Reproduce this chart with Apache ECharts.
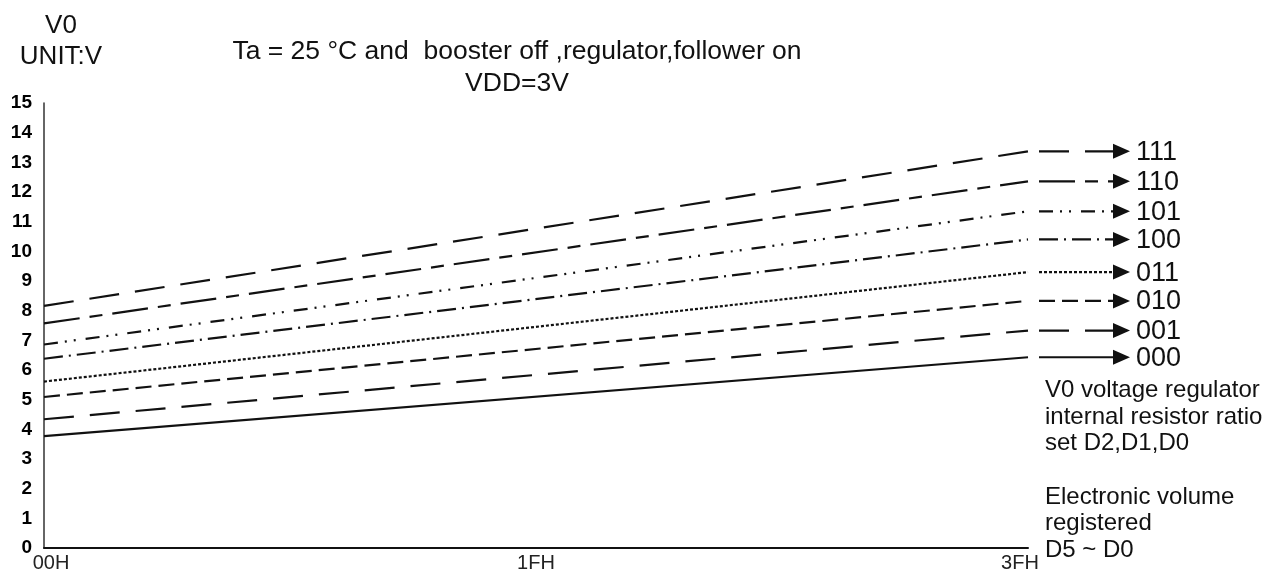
<!DOCTYPE html>
<html>
<head>
<meta charset="utf-8">
<script src="https://cdn.jsdelivr.net/npm/echarts@6/dist/echarts.min.js"></script>
<style>
  html, body { margin: 0; padding: 0; background: #fff; }
  #main { width: 1277px; height: 573px; }
</style>
</head>
<body>
<div id="main"></div>
<script>
// D2,D1,D0 settings, top line first
const codes = ['111', '110', '101', '100', '011', '010', '001', '000']
// V0 at electronic volume 00H and 3FH
const v00H = [8.16, 7.57, 6.86, 6.38, 5.61, 5.09, 4.34, 3.77]
const v3FH = [13.37, 12.36, 11.35, 10.40, 9.30, 8.33, 7.33, 6.43]
const xTickValues = [0, 31.5, 63]
const xTickLabels = ['00H', '1FH', '3FH']

// dash pattern per line (same order as codes)
const dashes = [
  [30, 16],
  [36, 10, 13, 10],
  [14, 7, 2, 7, 2, 10],
  [19, 6, 2, 6],
  [3, 2],
  [16, 7],
  [30, 16],
  'solid'
]

const font = 'Arial, "Liberation Sans", sans-serif'
const ink = '#111'

const chart = echarts.init(document.getElementById('main'))

const series = codes.map((c, i) => ({
  name: c,
  type: 'line',
  symbol: 'none',
  silent: true,
  data: [[xTickValues[0], v00H[i]], [xTickValues[2], v3FH[i]]],
  lineStyle: { color: ink, width: 2.2, type: dashes[i] }
}))

chart.setOption({
  animation: false,
  backgroundColor: '#fff',
  title: [
    {
      text: 'V0\nUNIT:V',
      left: 61, top: 10, padding: 0,
      textAlign: 'center',
      textStyle: { fontFamily: font, fontSize: 26, fontWeight: 'normal', color: ink, lineHeight: 31 }
    },
    {
      text: 'Ta = 25 °C and  booster off ,regulator,follower on\nVDD=3V',
      left: 517, top: 35, padding: 0,
      textAlign: 'center',
      textStyle: { fontFamily: font, fontSize: 26.5, fontWeight: 'normal', color: ink, lineHeight: 32.5 }
    }
  ],
  grid: { left: 44, right: 249, top: 103, bottom: 23, containLabel: false },
  xAxis: {
    type: 'value',
    min: 0, max: 63, interval: 31.5,
    axisLine: { lineStyle: { color: ink, width: 2 } },
    axisTick: { show: false },
    splitLine: { show: false },
    axisLabel: {
      margin: 5,
      fontFamily: font, fontSize: 20, color: '#222',
      formatter: v => {
        const i = xTickValues.indexOf(v)
        if (i === 0) return '{l|' + xTickLabels[i] + '}'
        if (i === 2) return '{r|' + xTickLabels[i] + '}'
        return xTickLabels[i] || ''
      },
      rich: {
        l: { fontFamily: font, fontSize: 20, color: '#222', padding: [0, 0, 0, 14] },
        r: { fontFamily: font, fontSize: 20, color: '#222', padding: [0, 16, 0, 0] }
      }
    }
  },
  yAxis: {
    type: 'value',
    min: 0, max: 15, interval: 1,
    axisLine: { show: true, lineStyle: { color: '#333', width: 1.5 } },
    axisTick: { show: false },
    splitLine: { show: false },
    axisLabel: { margin: 12, fontFamily: font, fontSize: 19, fontWeight: 'bold', color: '#000' }
  },
  series: series
})

// arrows + codes to the right of the plot, placed at each line's 3FH value
const graphics = []
codes.forEach((c, i) => {
  const p = chart.convertToPixel({ gridIndex: 0 }, [63, v3FH[i]])
  const y = p[1]
  const x0 = p[0] + 11
  const xa = 1113
  graphics.push({
    type: 'line', silent: true,
    shape: { x1: x0, y1: y, x2: xa, y2: y },
    style: { stroke: ink, lineWidth: 2.2, lineDash: dashes[i] === 'solid' ? null : dashes[i] }
  })
  graphics.push({
    type: 'polygon', silent: true,
    shape: { points: [[xa, y - 7.5], [xa + 17, y], [xa, y + 7.5]] },
    style: { fill: ink }
  })
  graphics.push({
    type: 'text', silent: true,
    x: 1136, y: y + 1,
    style: { text: c, font: '27px ' + font, fill: ink, verticalAlign: 'middle' }
  })
})
graphics.push({
  type: 'text', silent: true,
  x: 1045, y: 377,
  style: {
    text: 'V0 voltage regulator\ninternal resistor ratio\nset D2,D1,D0\n\nElectronic volume\nregistered\nD5 ~ D0',
    font: '24px ' + font, fill: ink, lineHeight: 26.7, verticalAlign: 'top'
  }
})
chart.setOption({ graphic: graphics })
</script>
</body>
</html>
